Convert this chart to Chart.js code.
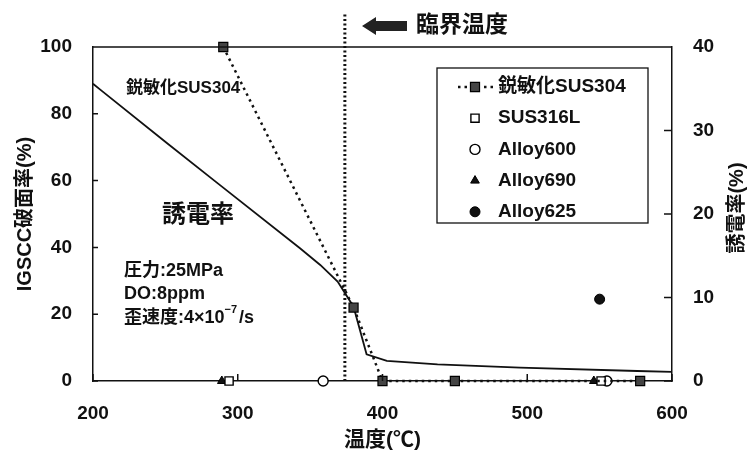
<!DOCTYPE html>
<html lang="ja">
<head>
  <meta charset="UTF-8" />
  <title>IGSCC破面率と誘電率</title>
  <script src="https://cdn.jsdelivr.net/npm/chart.js"></script>
  <style>
    html, body { margin: 0; padding: 0; background: #fff; }
    #wrap { width: 755px; height: 459px; }
  </style>
</head>
<body>
  <div id="wrap"><canvas id="chart" width="755" height="459"></canvas></div>

  <script>
    const FONT = "'Liberation Sans', Arial, 'Noto Sans CJK JP', sans-serif";

    // axis ticks
    const xTicks = [200, 300, 400, 500, 600];
    const leftTicks = [0, 20, 40, 60, 80, 100];
    const rightTicks = [0, 10, 20, 30, 40];

    // IGSCC破面率 (%) vs 温度
    const sus304Temp = [290, 380, 400, 450, 578];
    const sus304Val = [100, 22, 0, 0, 0];
    const sus316Temp = [294, 551];
    const sus316Val = [0, 0];
    const a600Temp = [359, 555];
    const a600Val = [0, 0];
    const a690Temp = [289, 546];
    const a690Val = [0, 0];
    const a625Temp = [550];
    const a625Val = [24.5];

    // 誘電率 (right axis)
    const dielTemp = [200, 205, 251, 286, 343, 357, 369, 380, 389, 403, 438, 495, 576, 600];
    const dielVal = [35.6, 34.9, 28.5, 23.7, 15.9, 13.9, 11.9, 8.9, 3.2, 2.4, 2.0, 1.6, 1.2, 1.1];

    // 臨界温度
    const criticalTemp = 374;
    const criticalTop = 110.5;

    const pts = (xs, ys) => xs.map((x, i) => ({ x: x, y: ys[i] }));

    const sus304 = {
      label: '鋭敏化SUS304', data: pts(sus304Temp, sus304Val), yAxisID: 'y',
      showLine: true, borderColor: '#111', borderWidth: 2.5, borderDash: [2.5, 4],
      pointStyle: 'rect', pointRadius: 6.4, pointBackgroundColor: '#444',
      pointBorderColor: '#000', pointBorderWidth: 1.2, clip: 10
    };
    const sus316 = {
      label: 'SUS316L', data: pts(sus316Temp, sus316Val), yAxisID: 'y',
      pointStyle: 'rect', pointRadius: 5.8, pointBackgroundColor: '#fff',
      pointBorderColor: '#000', pointBorderWidth: 1.4, clip: 10
    };
    const a600 = {
      label: 'Alloy600', data: pts(a600Temp, a600Val), yAxisID: 'y',
      pointStyle: 'circle', pointRadius: 5, pointBackgroundColor: '#fff',
      pointBorderColor: '#000', pointBorderWidth: 1.4, clip: 10
    };
    const a690 = {
      label: 'Alloy690', data: pts(a690Temp, a690Val), yAxisID: 'y',
      pointStyle: 'triangle', pointRadius: 5, pointBackgroundColor: '#111',
      pointBorderColor: '#000', pointBorderWidth: 1, clip: 10
    };
    const a625 = {
      label: 'Alloy625', data: pts(a625Temp, a625Val), yAxisID: 'y',
      pointStyle: 'circle', pointRadius: 5, pointBackgroundColor: '#111',
      pointBorderColor: '#000', pointBorderWidth: 1, clip: 10
    };
    const diel = {
      label: '誘電率', data: pts(dielTemp, dielVal), yAxisID: 'y2',
      showLine: true, borderColor: '#111', borderWidth: 1.8, pointRadius: 0
    };
    const critical = {
      label: '臨界温度', data: [{ x: criticalTemp, y: 0 }, { x: criticalTemp, y: criticalTop }],
      yAxisID: 'y', showLine: true, borderColor: '#111', borderWidth: 3,
      borderDash: [2, 2.5], pointRadius: 0, clip: { left: 0, top: 45, right: 0, bottom: 0 }
    };

    const legendItems = [sus304, sus316, a600, a690, a625];

    function pointOpts(ds) {
      return {
        pointStyle: ds.pointStyle, radius: ds.pointRadius, rotation: 0,
        borderWidth: ds.pointBorderWidth
      };
    }

    const decor = {
      id: 'decor',
      afterDraw(chart) {
        const { ctx, chartArea: a, scales } = chart;
        ctx.save();

        // top frame + inward ticks
        ctx.strokeStyle = '#111';
        ctx.lineWidth = 1.5;
        ctx.beginPath();
        ctx.moveTo(a.left, a.top);
        ctx.lineTo(a.right, a.top);
        leftTicks.forEach(v => {
          const py = scales.y.getPixelForValue(v);
          ctx.moveTo(a.left, py); ctx.lineTo(a.left + 5, py);
        });
        rightTicks.forEach(v => {
          const py = scales.y2.getPixelForValue(v);
          ctx.moveTo(a.right, py); ctx.lineTo(a.right - 8, py);
        });
        xTicks.forEach(v => {
          const px = scales.x.getPixelForValue(v);
          ctx.moveTo(px, a.bottom); ctx.lineTo(px, a.bottom - 7);
        });
        ctx.stroke();

        // legend box
        ctx.fillStyle = '#fff';
        ctx.fillRect(437, 68, 211, 155);
        ctx.lineWidth = 1.3;
        ctx.strokeRect(437, 68, 211, 155);
        ctx.font = 'bold 19px ' + FONT;
        ctx.textBaseline = 'middle';
        ctx.textAlign = 'left';
        legendItems.forEach((ds, i) => {
          const ly = 87 + i * 31.2;
          if (ds.showLine) {
            ctx.save();
            ctx.strokeStyle = ds.borderColor;
            ctx.lineWidth = ds.borderWidth;
            ctx.setLineDash(ds.borderDash);
            ctx.beginPath(); ctx.moveTo(458, ly); ctx.lineTo(494, ly); ctx.stroke();
            ctx.restore();
          }
          ctx.fillStyle = ds.pointBackgroundColor;
          ctx.strokeStyle = ds.pointBorderColor;
          ctx.lineWidth = ds.pointBorderWidth;
          Chart.helpers.drawPoint(ctx, pointOpts(ds), 475, ly);
          ctx.fillStyle = '#111';
          ctx.fillText(ds.label, 498, ly);
        });

        // annotations
        ctx.fillStyle = '#111';
        ctx.font = 'bold 17px ' + FONT;
        ctx.fillText('鋭敏化SUS304', 126, 88);
        ctx.font = 'bold 24px ' + FONT;
        ctx.fillText('誘電率', 162, 215);
        ctx.font = 'bold 18px ' + FONT;
        ctx.fillText('圧力:25MPa', 124, 271);
        ctx.fillText('DO:8ppm', 124, 294);
        ctx.fillText('歪速度:4×10', 124, 318);
        const w = ctx.measureText('歪速度:4×10').width;
        ctx.font = 'bold 11px ' + FONT;
        ctx.fillText('−7', 124 + w, 310);
        const w2 = ctx.measureText('−7').width;
        ctx.font = 'bold 18px ' + FONT;
        ctx.fillText('/s', 124 + w + w2 + 2, 318);

        // 臨界温度 arrow + label
        ctx.beginPath();
        ctx.moveTo(362, 26);
        ctx.lineTo(376, 17);
        ctx.lineTo(376, 21);
        ctx.lineTo(407, 21);
        ctx.lineTo(407, 31);
        ctx.lineTo(376, 31);
        ctx.lineTo(376, 35);
        ctx.closePath();
        ctx.fillStyle = '#222';
        ctx.fill();
        ctx.fillStyle = '#111';
        ctx.font = 'bold 23px ' + FONT;
        ctx.fillText('臨界温度', 416, 26);

        // right axis title (reads bottom to top)
        ctx.save();
        ctx.translate(737, 208);
        ctx.rotate(-Math.PI / 2);
        ctx.textAlign = 'center';
        ctx.font = 'bold 20px ' + FONT;
        ctx.fillText('誘電率(%)', 0, 0);
        ctx.restore();

        ctx.restore();
      }
    };

    const tickFont = { family: FONT, size: 19, weight: 'bold' };
    const axisBorder = { display: true, color: '#111', width: 1.5 };
    const noGrid = { display: false, drawTicks: false, tickLength: 0 };

    new Chart(document.getElementById('chart'), {
      type: 'scatter',
      data: { datasets: [sus304, sus316, a600, a690, a625, diel, critical] },
      options: {
        responsive: false,
        animation: false,
        layout: { padding: { top: 47, left: 0, right: 0, bottom: 0 } },
        plugins: { legend: { display: false }, tooltip: { enabled: false } },
        scales: {
          x: {
            type: 'linear', position: 'bottom', min: 200, max: 600,
            afterBuildTicks: s => { s.ticks = xTicks.map(v => ({ value: v })); },
            afterFit: s => { s.height = 78; },
            ticks: { font: tickFont, color: '#111', padding: 21 },
            grid: noGrid, border: axisBorder,
            title: {
              display: true, text: '温度(℃)', color: '#111',
              font: { family: FONT, size: 21, weight: 'bold' },
              padding: { top: 0, bottom: 6 }
            }
          },
          y: {
            type: 'linear', position: 'left', min: 0, max: 100,
            afterBuildTicks: s => { s.ticks = leftTicks.map(v => ({ value: v })); },
            afterFit: s => { s.width = 93; },
            ticks: { font: tickFont, color: '#111', padding: 21 },
            grid: noGrid, border: axisBorder,
            title: {
              display: true, text: 'IGSCC破面率(%)', color: '#111',
              font: { family: FONT, size: 20, weight: 'bold' },
              padding: { top: 13, bottom: 0 }
            }
          },
          y2: {
            type: 'linear', position: 'right', min: 0, max: 40,
            afterBuildTicks: s => { s.ticks = rightTicks.map(v => ({ value: v })); },
            afterFit: s => { s.width = 83; },
            ticks: { font: tickFont, color: '#111', padding: 21 },
            grid: noGrid, border: axisBorder
          }
        }
      },
      plugins: [decor]
    });
  </script>
</body>
</html>
